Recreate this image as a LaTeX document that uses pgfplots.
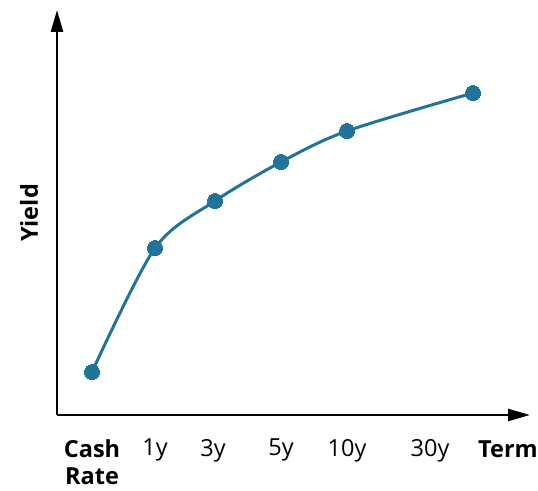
\documentclass[border=0pt]{standalone}
\usepackage{fontspec}
\setmainfont{Open Sans}
\usepackage{pgfplots}
\pgfplotsset{compat=1.18}
\usetikzlibrary{arrows.meta}
\definecolor{curveblue}{HTML}{21739A}

\begin{document}
\fontsize{23.5}{27}\selectfont
\begin{tikzpicture}[x=1pt,y=1pt]
\path[use as bounding box] (0,-3) rectangle (538,487);
\begin{axis}[
    at={(57pt,72pt)}, anchor=origin,
    scale only axis,
    width=473pt, height=405pt,
    xmin=57, xmax=530,
    ymin=0, ymax=405,
    axis lines=left,
    axis line style={line width=2.5pt, -{Triangle[width=12pt,length=22pt]}},
    xtick={92,155,213,281,347,430},
    xticklabels={{\textbf{Cash}\\\textbf{Rate}},1y,3y,5y,10y,30y},
    xticklabel style={align=center, anchor=north, yshift=-24pt, inner sep=0pt},
    ytick=\empty,
    major tick length=0pt,
    xlabel={\textbf{Term}},
    xlabel style={at={(axis cs:508,-42)}, anchor=base},
    ylabel={\textbf{Yield}},
    ylabel style={at={(axis cs:29,202)}, anchor=center, rotate=0},
    clip=false,
]
\addplot[curveblue, line width=3pt, smooth, tension=0.5, mark=*, mark size=7.5pt,
    mark options={fill=curveblue, draw=curveblue, line width=0pt}]
coordinates {
    (92,43) (155,167) (215,214) (281,253) (347,284) (473,322)
};
\end{axis}
\end{tikzpicture}
\end{document}
